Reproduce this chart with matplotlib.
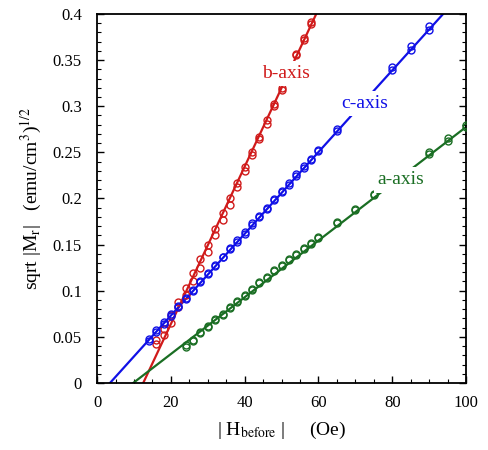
import numpy as np
import matplotlib
matplotlib.use("Agg")
import matplotlib.pyplot as plt
from matplotlib.ticker import MultipleLocator, FuncFormatter

plt.rcParams['font.family'] = ['Liberation Serif', 'DejaVu Serif']
plt.rcParams['mathtext.fontset'] = 'stix'

# b-axis (two sweeps)
b_x = [16, 18, 20, 22, 24, 26, 28, 30, 32, 34, 36, 38, 40, 42, 44, 46, 48, 50, 54, 56, 58]
b_y1 = [0.047, 0.058, 0.074, 0.088, 0.103, 0.119, 0.134, 0.150, 0.167, 0.184, 0.200,
        0.217, 0.234, 0.250, 0.267, 0.285, 0.302, 0.320, 0.357, 0.374, 0.391]
b_y2 = [0.042, 0.052, 0.065, 0.082, 0.095, 0.110, 0.125, 0.142, 0.160, 0.177, 0.193,
        0.212, 0.230, 0.247, 0.264, 0.281, 0.300, 0.318, 0.355, 0.372, 0.389]

# c-axis
c_x = [14, 16, 18, 20, 22, 24, 26, 28, 30, 32, 34, 36, 38, 40, 42, 44, 46, 48, 50,
       52, 54, 56, 58, 60, 65, 80, 85, 90]
c_y1 = [0.046, 0.055, 0.064, 0.073, 0.082, 0.091, 0.100, 0.109, 0.118, 0.127, 0.136,
        0.145, 0.153, 0.162, 0.171, 0.180, 0.189, 0.198, 0.207, 0.215, 0.224, 0.233,
        0.242, 0.251, 0.273, 0.339, 0.361, 0.383]
c_y2 = [0.048, 0.057, 0.066, 0.075, 0.083, 0.092, 0.101, 0.110, 0.119, 0.128, 0.137,
        0.146, 0.155, 0.164, 0.173, 0.181, 0.190, 0.199, 0.208, 0.217, 0.226, 0.235,
        0.243, 0.252, 0.275, 0.342, 0.365, 0.387]

# a-axis
a_x = [24, 26, 28, 30, 32, 34, 36, 38, 40, 42, 44, 46, 48, 50, 52, 54, 56, 58, 60,
       65, 70, 75, 90, 95, 100]
a_y1 = [0.039, 0.046, 0.054, 0.061, 0.068, 0.074, 0.081, 0.088, 0.094, 0.101, 0.108,
        0.114, 0.121, 0.127, 0.133, 0.139, 0.145, 0.151, 0.157, 0.173, 0.188, 0.204,
        0.248, 0.262, 0.277]
a_y2 = [0.041, 0.047, 0.055, 0.062, 0.069, 0.075, 0.082, 0.089, 0.095, 0.102, 0.109,
        0.115, 0.122, 0.128, 0.134, 0.140, 0.146, 0.152, 0.158, 0.174, 0.189, 0.205,
        0.250, 0.265, 0.280]

# fitted lines: (slope, x-intercept, x_end)
b_fit = (0.00853, 12.5, 59.4)
c_fit = (0.00443, 3.5, 93.8)
a_fit = (0.003076, 9.8, 100.0)

red = '#d01a1a'
blue = '#1010e6'
green = '#1a6e23'

fig = plt.figure(figsize=(4.88, 4.5), dpi=100)
ax = fig.add_axes([0.199, 0.149, 0.756, 0.820])

for xs, y1, y2, fit, col in [(b_x, b_y1, b_y2, b_fit, red),
                             (c_x, c_y1, c_y2, c_fit, blue),
                             (a_x, a_y1, a_y2, a_fit, green)]:
    k, x0, x1 = fit
    lx = np.array([x0, x1])
    ax.plot(lx, k * (lx - x0), color=col, lw=1.6, zorder=2)
    for ys in (y1, y2):
        ax.plot(xs, ys, 'o', mfc='none', mec=col, ms=5, mew=1.0, zorder=3)

bb = dict(facecolor='white', edgecolor='none', pad=3)
ax.text(51.2, 0.335, 'b-axis', color=red, fontsize=14, ha='center', va='center', bbox=bb, zorder=5)
ax.text(72.5, 0.303, 'c-axis', color=blue, fontsize=14, ha='center', va='center', bbox=bb, zorder=5)
ax.text(82.4, 0.220, 'a-axis', color=green, fontsize=14, ha='center', va='center', bbox=bb, zorder=5)

ax.set_xlim(0, 100)
ax.set_ylim(0, 0.4)
ax.xaxis.set_major_locator(MultipleLocator(20))
ax.xaxis.set_minor_locator(MultipleLocator(5))
ax.yaxis.set_major_locator(MultipleLocator(0.05))
ax.yaxis.set_minor_locator(MultipleLocator(0.01))
ax.yaxis.set_major_formatter(FuncFormatter(lambda v, p: '%g' % round(v, 3)))
ax.tick_params(which='both', direction='in', top=False, right=True, labelsize=12)
ax.tick_params(which='major', length=5, width=1.0)
ax.tick_params(axis='y', which='major', pad=11)
ax.tick_params(axis='x', which='major', pad=9)
ax.tick_params(which='minor', length=3, width=0.8)
for s in ax.spines.values():
    s.set_linewidth(1.3)

ax.set_xlabel(r'| H$_{\rm before}$ |     (Oe)', fontsize=14, labelpad=6)
ax.set_ylabel(r'sqrt |M$_{\rm r}$|   (emu/cm$^3$)$^{1/2}$', fontsize=14, labelpad=6)

fig.savefig('out.png', dpi=100)
